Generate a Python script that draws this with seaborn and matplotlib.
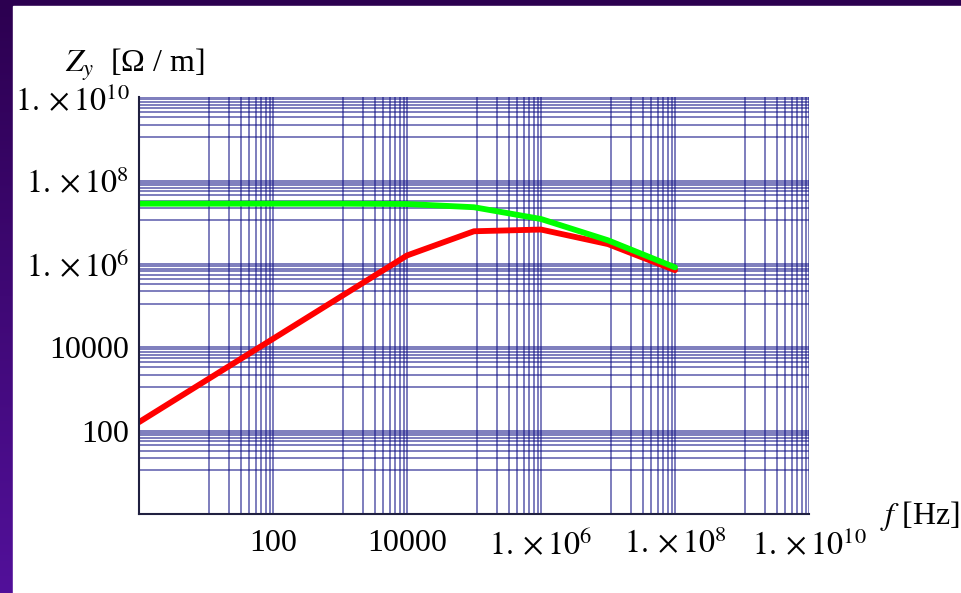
import numpy as np
import pandas as pd
import matplotlib
matplotlib.use('Agg')
import matplotlib.pyplot as plt
import seaborn as sns
from matplotlib.ticker import FixedLocator, NullFormatter
from matplotlib.patches import Rectangle
from matplotlib.colors import LinearSegmentedColormap

# values
freq = [1, 10, 100, 1e3, 1e4, 1e5, 1e6, 1e7, 1e8]
zy_red = [160, 1600, 1.6e4, 1.6e5, 1.6e6, 6.1e6, 6.7e6, 3.0e6, 7.1e5]
zy_green = [2.8e7, 2.8e7, 2.8e7, 2.8e7, 2.75e7, 2.3e7, 1.2e7, 3.7e6, 8.3e5]

tick_values = [1e2, 1e4, 1e6, 1e8, 1e10]
x_tick_labels = ['100', '10000', r'$1.\times 10^{6}$', r'$1.\times 10^{8}$', r'$1.\times 10^{10}$']
y_tick_labels = ['100', '10000', r'$1.\times 10^{6}$', r'$1.\times 10^{8}$', r'$1.\times 10^{10}$']

sns.set_style('white')
plt.rcParams['font.family'] = ['Liberation Serif', 'DejaVu Serif']
plt.rcParams['mathtext.fontset'] = 'stix'
plt.rcParams['text.color'] = 'black'
plt.rcParams['xtick.color'] = 'black'
plt.rcParams['ytick.color'] = 'black'

W, H = 962, 593
fig = plt.figure(figsize=(W / 100, H / 100), dpi=100)
fig.patch.set_facecolor('#2e0055')

# purple frame with white page
bg = fig.add_axes([0, 0, 1, 1], zorder=0)
bg.axis('off')
cmap = LinearSegmentedColormap.from_list('frame', ['#2c0050', '#52109a'])
bg.imshow(np.linspace(0, 1, 256).reshape(-1, 1), aspect='auto', cmap=cmap, extent=[0, 1, 0, 1])
bg.add_patch(Rectangle((13 / W, 0), 1, 1 - 6 / H, transform=bg.transAxes, color='white'))
bg.set_xlim(0, 1)
bg.set_ylim(0, 1)

ax = fig.add_axes([139 / W, 1 - 514 / H, 670 / W, (514 - 97.3) / H], zorder=1)
ax.set_facecolor('none')

df = pd.DataFrame({
    'f': freq * 2,
    'Z': zy_red + zy_green,
    'curve': ['red'] * len(freq) + ['green'] * len(freq),
})
sns.lineplot(data=df, x='f', y='Z', hue='curve',
             palette={'red': '#ff0000', 'green': '#00ff00'},
             lw=4.2, legend=False, ax=ax)

ax.set_xscale('log')
ax.set_yscale('log')
ax.set_xlim(1, 1e10)
ax.set_ylim(1, 1e10)

# grid lines: a group of lines below each labelled decade
grid_pos = [m * k / 9 for m in tick_values for k in range(1, 9)]
for axis in (ax.xaxis, ax.yaxis):
    axis.set_major_locator(FixedLocator(tick_values))
    axis.set_minor_locator(FixedLocator(grid_pos))
    axis.set_minor_formatter(NullFormatter())
ax.set_xticks(tick_values, x_tick_labels)
ax.set_yticks(tick_values, y_tick_labels)

ax.grid(True, which='both', color='#141488', alpha=0.62, lw=1.25)
ax.tick_params(which='both', direction='in', length=3, width=1, color='#101030',
               labelsize=23, labelcolor='black')
ax.tick_params(axis='x', which='major', pad=11)
ax.tick_params(axis='y', which='major', pad=7)
ax.set_xlabel('')
ax.set_ylabel('')
for s in ['top', 'right']:
    ax.spines[s].set_visible(False)
for s in ['left', 'bottom']:
    ax.spines[s].set_color('#202040')
    ax.spines[s].set_linewidth(1.5)

fig.text(65 / W, 1 - 72 / H, r'$Z_y$  [Ω / m]', fontsize=23, va='baseline', color='black')
fig.text(880 / W, 1 - 524 / H, r'$f$ [Hz]', fontsize=23, va='baseline', color='black')

fig.savefig('out.png', dpi=100, facecolor=fig.get_facecolor())
